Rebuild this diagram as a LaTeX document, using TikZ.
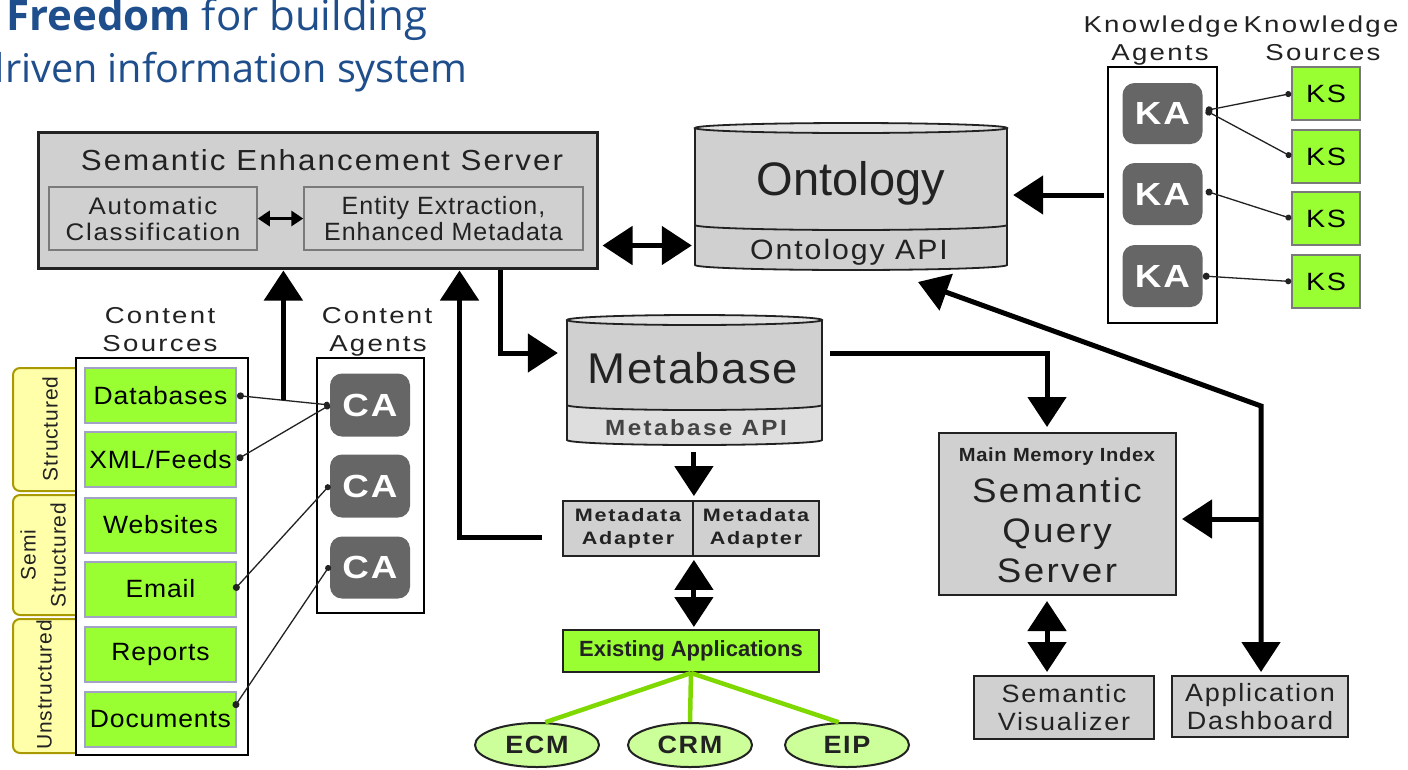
\documentclass[tikz,border=0pt]{standalone}
\usepackage{fontspec}
\setmainfont{Liberation Sans}
\newfontfamily\titlefont{Open Sans}
\newfontfamily\lsa[LetterSpace=4]{Liberation Sans}
\newfontfamily\lsb[FakeStretch=1.06,LetterSpace=3.5]{Liberation Sans}
\newfontfamily\lsc[FakeStretch=1.08,LetterSpace=7]{Liberation Sans}
\newfontfamily\lsd[FakeStretch=1.1,LetterSpace=11]{Liberation Sans}
\newfontfamily\lse[FakeStretch=1.2,LetterSpace=10]{Liberation Sans}
\newfontfamily\lsk[FakeStretch=1.15,LetterSpace=6]{Liberation Sans}
\usetikzlibrary{arrows.meta,calc,shapes.geometric}

\newcommand\fsz[2]{\fontsize{#1}{#2}\selectfont}

\definecolor{boxgray}{HTML}{D0D0D0}
\definecolor{toplight}{HTML}{E2E2E2}
\definecolor{apigray}{HTML}{DEDEDE}
\definecolor{midgray}{HTML}{7A7A7A}
\definecolor{agentgray}{HTML}{666666}
\definecolor{srcgreen}{HTML}{99FF33}
\definecolor{srcedge}{HTML}{A2A2C6}
\definecolor{appgreen}{HTML}{CCFF99}
\definecolor{linkgreen}{HTML}{7FD900}
\definecolor{tabyellow}{HTML}{FFFFAA}
\definecolor{tabolive}{HTML}{A89A00}
\definecolor{titleblue}{HTML}{1F4E8C}
\definecolor{ink}{HTML}{222222}

\begin{document}
\begin{tikzpicture}[x=1pt,y=-1pt,
  graybox/.style={draw=ink, line width=2pt, fill=boxgray, inner sep=0pt, align=center, text=ink},
  subbox/.style={draw=midgray, line width=1.5pt, fill=boxgray, inner sep=0pt, align=center, text=ink},
  framebox/.style={draw=black, line width=2pt, fill=white, inner sep=0pt},
  srcbox/.style={draw=srcedge, line width=2pt, fill=srcgreen, inner sep=0pt,
    minimum width=151pt, minimum height=55pt, text=black, font=\lsb\fsz{25}{25}},
  agent/.style={fill=agentgray, rounded corners=12pt, inner sep=0pt, minimum width=80pt,
    text=white, font=\lsk\bfseries\fsz{32}{32}},
  ksbox/.style={draw=midgray, line width=1.5pt, fill=srcgreen, inner sep=0pt,
    minimum width=68pt, minimum height=53pt, text=black, font=\lsk\fsz{25}{25}},
  hdr/.style={anchor=base, inner sep=0pt, text=ink, font=\lse\fsz{23}{23}},
  tabshape/.style={fill=tabyellow, draw=tabolive, line width=2pt, rounded corners=7pt},
  tablabel/.style={rotate=90, inner sep=0pt, align=center, text=ink, font=\lsa\fsz{21}{30}},
  cyl/.style={draw=ink, line width=1.8pt},
  pin/.style={draw=ink, line width=1.3pt, {Circle[length=7pt]}-{Circle[length=6pt]}},
  bigarrow/.style={draw=black, line width=5pt, line join=miter, -{Triangle[length=30pt,width=38pt]}},
  bigdouble/.style={draw=black, line width=5pt, line join=miter,
    {Triangle[length=30pt,width=38pt]}-{Triangle[length=30pt,width=38pt]}},
  smalldouble/.style={draw=black, line width=3pt,
    {Triangle[length=12pt,width=15pt]}-{Triangle[length=12pt,width=15pt]}},
  appellipse/.style={ellipse, draw=ink, line width=2pt, fill=appgreen, inner sep=0pt,
    minimum width=124pt, minimum height=44pt, text=ink, font=\lsc\bfseries\fsz{25}{25}},
  greenlink/.style={draw=linkgreen, line width=4.5pt}
]
\useasboundingbox (0,0) rectangle (1408,769);
\clip (0,0) rectangle (1408,769);
\fill[white] (0,0) rectangle (1408,769);

% ---------------- heading ----------------
\node[anchor=base west, inner sep=0pt, text=titleblue, font=\titlefont\fsz{42}{46}] (title1) at (6,30) {\textbf{Freedom} for building};
\node[anchor=base east, inner sep=0pt, text=titleblue, font=\titlefont\fsz{39.6}{46}] (title2) at (468,82) {driven information system};

% ---------------- Semantic Enhancement Server ----------------
\node[graybox, line width=3pt, minimum width=559pt, minimum height=136pt] (ses) at (317.5,200) {};
\node[anchor=base, inner sep=0pt, text=ink, font=\lsc\fsz{29}{29}] (sestitle) at (322,170) {Semantic Enhancement Server};
\node[subbox, minimum width=208pt, minimum height=63pt, font=\lsc\fsz{24}{26}] (autoc) at (153,218.5) {Automatic\\Classification};
\node[subbox, minimum width=279pt, minimum height=63pt, font=\lsa\fsz{25}{26}] (entity) at (443.5,218.5) {Entity Extraction,\\Enhanced Metadata};
\draw[smalldouble] (autoc.east) -- (entity.west);

% ---------------- Ontology store ----------------
\fill[boxgray] (695,128) -- (695,265) arc[start angle=180,end angle=360,x radius=156pt,y radius=5pt] -- (1007,128) -- cycle;
\draw[cyl] (695,225) arc[start angle=180,end angle=360,x radius=156pt,y radius=5pt];
\draw[cyl] (695,128) -- (695,265) arc[start angle=180,end angle=360,x radius=156pt,y radius=5pt] -- (1007,128);
\draw[cyl, fill=toplight] (851,128) ellipse[x radius=156pt, y radius=5pt];
\node[minimum width=312pt, minimum height=137pt, inner sep=0pt] (ontbody) at (851,196.5) {};
\node[anchor=base, inner sep=0pt, text=ink, font=\fsz{47}{47}] (ont) at (851,195) {Ontology};
\node[anchor=base, inner sep=0pt, text=ink, font=\lsc\fsz{28}{28}] (ontapi) at (849,259) {Ontology API};

% ---------------- Knowledge agents and sources ----------------
\node[hdr] (kh1) at (1161,32) {Knowledge};
\node[hdr] (kh2) at (1160,60) {Agents};
\node[hdr] (kh3) at (1321,32) {Knowledge};
\node[hdr] (kh4) at (1323,60) {Sources};
\node[framebox, minimum width=109pt, minimum height=256pt] (kabox) at (1162.5,195) {};
\node[agent, minimum height=61pt] (ka1) at (1162.5,113.5) {KA};
\node[agent, minimum height=62pt] (ka2) at (1162.5,194) {KA};
\node[agent, minimum height=62pt] (ka3) at (1162.5,276) {KA};
\node[ksbox] (ks1) at (1326,93.5) {KS};
\node[ksbox] (ks2) at (1326,156.5) {KS};
\node[ksbox] (ks3) at (1326,218.5) {KS};
\node[ksbox] (ks4) at (1326,281.5) {KS};
\draw[pin] ($(ka1.east)+(3,-3)$) -- (ks1.west);
\draw[pin] ($(ka1.east)+(3,-3)$) -- (ks2.west);
\draw[pin] ($(ka2.east)+(3,-3)$) -- (ks3.west);
\draw[pin] (ka3.east) -- (ks4.west);
\draw[bigarrow, shorten <=3pt, shorten >=6pt] (kabox.west) -- (kabox.west -| ontbody.east);

\draw[bigdouble, shorten <=4pt, shorten >=3pt] ($(ses.south east)+(0,-24)$) coordinate (sesR) -- (sesR -| ontbody.west);

% ---------------- Content sources ----------------
\node[hdr] (ch1) at (160,323) {Content};
\node[hdr] (ch2) at (160,351) {Sources};
\node[hdr] (ch3) at (377,323) {Content};
\node[hdr] (ch4) at (378,351) {Agents};

\filldraw[tabshape] (77,368) -- (13,368) -- (13,491) -- (77,491);
\filldraw[tabshape] (77,495) -- (13,495) -- (13,615) -- (77,615);
\filldraw[tabshape] (77,619) -- (13,619) -- (13,753) -- (77,753);
\node[tablabel] (tab1) at (50,429) {Structured};
\node[tablabel] (tab2) at (43,555) {Semi\\Structured};
\node[tablabel] (tab3) at (44,685) {Unstructured};

\node[framebox, minimum width=172pt, minimum height=397pt] (csbox) at (162,556.5) {};
\node[srcbox] (db)   at (160.5,395.5) {Databases};
\node[srcbox] (xml)  at (160.5,459.5) {XML/Feeds};
\node[srcbox] (web)  at (160.5,525) {Websites};
\node[srcbox] (mail) at (160.5,589) {Email};
\node[srcbox] (rep)  at (160.5,654.5) {Reports};
\node[srcbox] (doc)  at (160.5,719.5) {Documents};

\node[framebox, minimum width=107pt, minimum height=255pt] (cabox) at (370.5,485.5) {};
\node[agent, minimum height=63pt] (ca1) at (370,405) {CA};
\node[agent, minimum height=63pt] (ca2) at (370,486) {CA};
\node[agent, minimum height=62pt] (ca3) at (370,567.5) {CA};

\draw[pin] (db.east) -- (ca1.west);
\draw[pin] (xml.east) -- (ca1.west);
\draw[pin] ($(mail.east)+(-3,1)$) -- ($(ca2.west)+(0,-1)$);
\draw[pin] ($(doc.east)+(-3,-12)$) -- ($(ca3.west)+(0,-2)$);

\coordinate (dbj) at ($(db.east)!0.5!(ca1.west)$);
\draw[bigarrow, shorten >=1pt] (dbj) -- (dbj |- ses.south);

% ---------------- Metabase ----------------
\fill[boxgray] (567,320) -- (567,440) arc[start angle=180,end angle=360,x radius=127.5pt,y radius=5pt] -- (822,320) -- cycle;
\fill[apigray] (567,405) arc[start angle=180,end angle=360,x radius=127.5pt,y radius=5pt] -- (822,440) arc[start angle=0,end angle=-180,x radius=127.5pt,y radius=5pt] -- cycle;
\draw[cyl] (567,405) arc[start angle=180,end angle=360,x radius=127.5pt,y radius=5pt];
\draw[cyl] (567,320) -- (567,440) arc[start angle=180,end angle=360,x radius=127.5pt,y radius=5pt] -- (822,320);
\draw[cyl, fill=toplight] (694.5,320) ellipse[x radius=127.5pt, y radius=5pt];
\node[minimum width=255pt, minimum height=130pt, inner sep=0pt] (mbbody) at (694.5,380) {};
\node[anchor=base, inner sep=0pt, text=ink, font=\lsb\fsz{43}{43}] (mb) at (693,383) {Metabase};
\node[anchor=base, inner sep=0pt, text=ink!85, font=\lsd\bfseries\fsz{22}{22}] (mbapi) at (696,435) {Metabase API};

\coordinate (sesDown) at ($(ses.south west)+(464,0)$);
\coordinate (mbIn) at ($(mbbody.west)+(0,-27)$);
\draw[bigarrow, shorten >=9pt] (sesDown) |- (mbIn);

% ---------------- Metadata adapters and existing applications ----------------
\node[graybox, line width=1.8pt, minimum width=130pt, minimum height=55pt, font=\lse\bfseries\fsz{18}{23}] (adpL) at (628,528.5) {Metadata\\Adapter};
\node[graybox, line width=1.8pt, minimum width=126pt, minimum height=55pt, font=\lse\bfseries\fsz{18}{23}] (adpR) at (756,528.5) {Metadata\\Adapter};
\draw[bigarrow, shorten >=4pt] ($(adpL.north east)+(0,-48)$) -- (adpL.north east);

\coordinate (adpOut) at ($(adpL.west)+(-20,8.5)$);
\coordinate (sesUp) at ($(ses.south west)+(423,0)$);
\draw[bigarrow, shorten >=1pt] (adpOut) -| (sesUp);

\node[draw=ink, line width=2pt, fill=srcgreen, inner sep=0pt, minimum width=256pt, minimum height=42pt,
      text=ink, font=\bfseries\fsz{22}{22}] (apps) at (691,651) {Existing Applications};
\draw[bigdouble, shorten <=3pt, shorten >=2pt] (adpL.south east) -- (adpL.south east |- apps.north);

\node[appellipse] (ecm) at (537,745) {ECM};
\node[appellipse] (crm) at (690,745) {CRM};
\node[appellipse] (eip) at (847,745) {EIP};
\draw[greenlink] (apps.south) -- (ecm.70);
\draw[greenlink] (apps.south) -- (crm.north);
\draw[greenlink] (apps.south) -- (eip.110);

% ---------------- Semantic Query Server ----------------
\node[graybox, minimum width=237pt, minimum height=162pt] (sqs) at (1057.5,514) {};
\node[anchor=base, inner sep=0pt, text=ink, font=\lsb\bfseries\fsz{19}{19}] (sqs0) at (1057,461) {Main Memory Index};
\node[anchor=base, inner sep=0pt, text=ink, font=\lsc\fsz{34}{34}] (sqs1) at (1057,502) {Semantic};
\node[anchor=base, inner sep=0pt, text=ink, font=\lsc\fsz{34}{34}] (sqs2) at (1057,542) {Query};
\node[anchor=base, inner sep=0pt, text=ink, font=\lsc\fsz{34}{34}] (sqs3) at (1057,582) {Server};

\node[graybox, minimum width=180pt, minimum height=63pt, font=\lsc\fsz{25}{28}] (vis) at (1064,707.5) {Semantic\\Visualizer};
\node[graybox, minimum width=176pt, minimum height=61pt, font=\lsc\fsz{25}{28}] (dash) at (1260,706.5) {Application\\Dashboard};

\coordinate (mbOut) at ($(mbbody.east)+(8,-27)$);
\coordinate (sqsTop) at ($(sqs.north west)+(109,0)$);
\draw[bigarrow, shorten >=5pt] (mbOut) -| (sqsTop);

\coordinate (sqsBot) at ($(sqs.south west)+(109,0)$);
\draw[bigdouble, shorten <=5pt, shorten >=3pt] (sqsBot) -- (sqsBot |- vis.north);

\coordinate (ontIn) at (918,282);
\coordinate (dashBend) at (1261,406);
\coordinate (branch) at (1261,519);
\draw[bigdouble, shorten >=3pt] (ontIn) -- (dashBend) -- (dashBend |- dash.north);
\draw[bigarrow, shorten >=5pt] (branch) -- (branch -| sqs.east);

\end{tikzpicture}
\end{document}
